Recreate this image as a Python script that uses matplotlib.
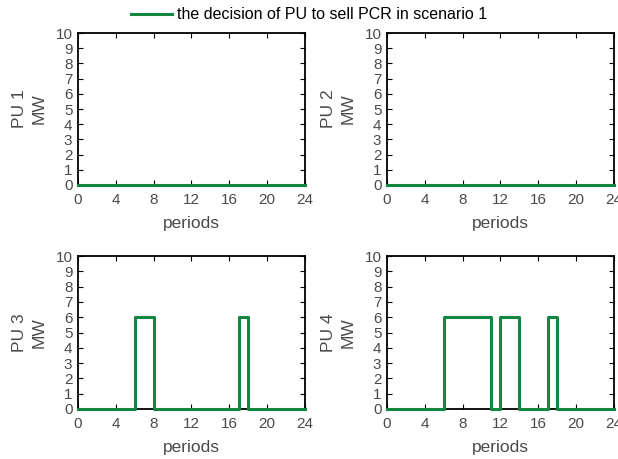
import numpy as np
import matplotlib.pyplot as plt

# decision per period (MW), periods 1..24
periods = np.arange(0, 25)
pu1 = [0] * 24
pu2 = [0] * 24
pu3 = [0, 0, 0, 0, 0, 0, 6, 6, 0, 0, 0, 0, 0, 0, 0, 0, 0, 6, 0, 0, 0, 0, 0, 0]
pu4 = [0, 0, 0, 0, 0, 0, 6, 6, 6, 6, 6, 0, 6, 6, 0, 0, 0, 6, 0, 0, 0, 0, 0, 0]
units = ["PU 1", "PU 2", "PU 3", "PU 4"]
series = [pu1, pu2, pu3, pu4]

green = "#13873f"
gray = "#4a4a4a"

plt.rcParams['font.family'] = ['Liberation Sans', 'DejaVu Sans']

fig = plt.figure(figsize=(6.18, 4.59), dpi=100)
positions = [
    [0.1262, 0.597, 0.3673, 0.331],
    [0.6262, 0.597, 0.3673, 0.331],
    [0.1262, 0.109, 0.3673, 0.333],
    [0.6262, 0.109, 0.3673, 0.333],
]

line = None
for pos, name, vals in zip(positions, units, series):
    ax = fig.add_axes(pos)
    line, = ax.step(periods, vals + [vals[-1]], where='post', color=green, linewidth=2.2, clip_on=False, zorder=3)
    ax.set_xlim(0, 24)
    ax.set_ylim(0, 10)
    ax.set_xticks(range(0, 25, 4))
    ax.set_yticks(range(0, 11))
    ax.tick_params(direction='in', length=3.5, width=0.8, colors='black', labelcolor=gray, labelsize=11, top=True, right=True, pad=4)
    ax.tick_params(axis='x', pad=6)
    for s in ax.spines.values():
        s.set_linewidth(1.3)
    ax.set_xlabel("periods", color=gray, fontsize=12.5, labelpad=6)
    ax.set_ylabel(name + "\nMW", color=gray, fontsize=12.5, labelpad=6, linespacing=1.4)

fig.legend([line], ["the decision of PU to sell PCR in scenario 1"], loc='upper center',
           bbox_to_anchor=(0.5, 1.015), frameon=False, fontsize=11.5, handlelength=2.6,
           labelcolor='black', handletextpad=0.3)

fig.savefig("out.png", dpi=100)
